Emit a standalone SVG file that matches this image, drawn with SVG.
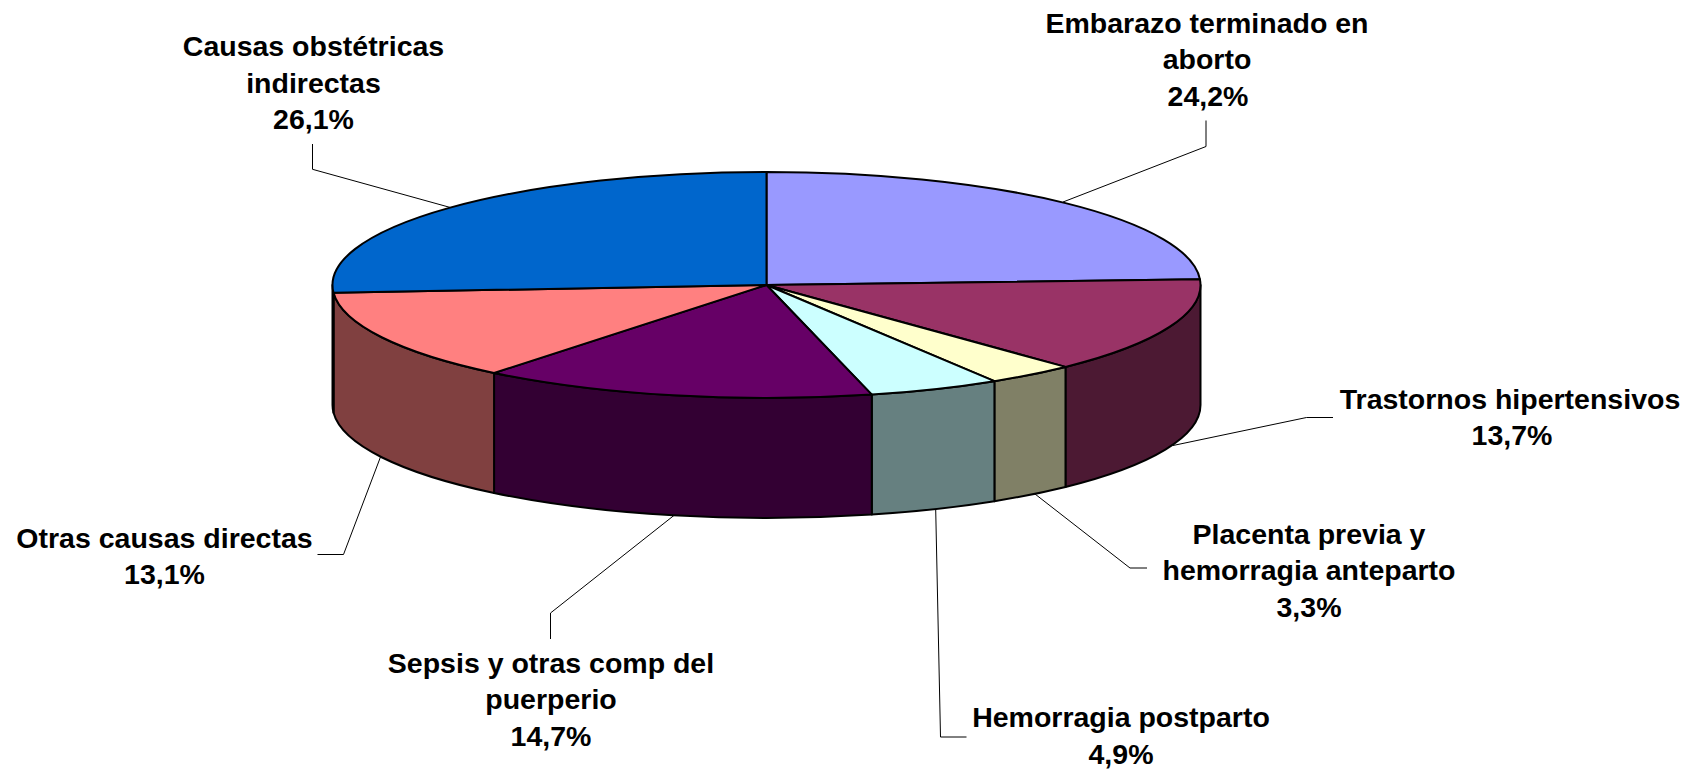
<svg xmlns="http://www.w3.org/2000/svg" width="1705" height="770" viewBox="0 0 1705 770">
<style>
.f{stroke:#000;stroke-width:2;stroke-linejoin:round}
.lbl{font-family:"Liberation Sans",Arial,sans-serif;font-weight:bold;font-size:28.5px;fill:#000;text-anchor:middle}
.ld{fill:none;stroke:#000;stroke-width:1}
</style>
<rect width="1705" height="770" fill="#fff"/>
<g id="embarazo">
<path class="f" fill="#9999FF" d="M766.5,285 L766.5,172 A434,113 0 0,1 1199.95,279.32 Z"/>
<text class="lbl" x="1207" y="32.5">Embarazo terminado en</text>
<text class="lbl" x="1207" y="69">aborto</text>
<text class="lbl" x="1208" y="105.5">24,2%</text>
</g>
<g id="trastornos">
<path class="f" fill="#4C1933" d="M1200.5,285 A434,113 0 0,1 1065.49,366.91 L1065.49,486.91 A434,113 0 0,0 1200.5,405 Z"/>
<path class="f" fill="#993366" d="M766.5,285 L1199.95,279.32 A434,113 0 0,1 1065.49,366.91 Z"/>
<text class="lbl" x="1510" y="408.5">Trastornos hipertensivos</text>
<text class="lbl" x="1512" y="445">13,7%</text>
</g>
<g id="placenta">
<path class="f" fill="#808066" d="M1065.49,366.91 A434,113 0 0,1 994.42,381.16 L994.42,501.16 A434,113 0 0,0 1065.49,486.91 Z"/>
<path class="f" fill="#FFFFCC" d="M766.5,285 L1065.49,366.91 A434,113 0 0,1 994.42,381.16 Z"/>
<text class="lbl" x="1309" y="543.5">Placenta previa y</text>
<text class="lbl" x="1309" y="580">hemorragia anteparto</text>
<text class="lbl" x="1309" y="616.5">3,3%</text>
</g>
<g id="hemorragia">
<path class="f" fill="#668080" d="M994.42,381.16 A434,113 0 0,1 871.79,394.62 L871.79,514.62 A434,113 0 0,0 994.42,501.16 Z"/>
<path class="f" fill="#CCFFFF" d="M766.5,285 L994.42,381.16 A434,113 0 0,1 871.79,394.62 Z"/>
<text class="lbl" x="1121" y="727">Hemorragia postparto</text>
<text class="lbl" x="1121" y="763.5">4,9%</text>
</g>
<g id="sepsis">
<path class="f" fill="#330033" d="M871.79,394.62 A434,113 0 0,1 494.06,372.96 L494.06,492.96 A434,113 0 0,0 871.79,514.62 Z"/>
<path class="f" fill="#660066" d="M766.5,285 L871.79,394.62 A434,113 0 0,1 494.06,372.96 Z"/>
<text class="lbl" x="551" y="672.5">Sepsis y otras comp del</text>
<text class="lbl" x="551" y="709">puerperio</text>
<text class="lbl" x="551" y="745.5">14,7%</text>
</g>
<g id="otras">
<path class="f" fill="#804040" d="M494.06,372.96 A434,113 0 0,1 333.54,292.8 L333.54,412.8 A434,113 0 0,0 494.06,492.96 Z"/>
<path class="f" fill="#FF8080" d="M766.5,285 L494.06,372.96 A434,113 0 0,1 333.54,292.8 Z"/>
<text class="lbl" x="164.5" y="547.5">Otras causas directas</text>
<text class="lbl" x="164.5" y="584">13,1%</text>
</g>
<g id="causas">
<path class="f" fill="#003366" d="M333.54,292.8 A434,113 0 0,1 332.5,285 L332.5,405 A434,113 0 0,0 333.54,412.8 Z"/>
<path class="f" fill="#0066CC" d="M766.5,285 L333.54,292.8 A434,113 0 0,1 766.5,172 Z"/>
<text class="lbl" x="313.5" y="56">Causas obstétricas</text>
<text class="lbl" x="313.5" y="92.5">indirectas</text>
<text class="lbl" x="313.5" y="129">26,1%</text>
</g>
<g id="connectors">
<polyline class="ld" points="1206,120.5 1206,146.5 1063,202"/>
<polyline class="ld" points="1333,417.5 1306.5,417.5 1173,445.5"/>
<polyline class="ld" points="1147,568 1130,568 1035,494"/>
<polyline class="ld" points="966.5,737 940.5,737 935.7,509.3"/>
<polyline class="ld" points="550.5,639 550.5,613 674,515.4"/>
<polyline class="ld" points="317.5,554.5 343.5,554.5 380.6,456.7"/>
<polyline class="ld" points="312.5,144 312.5,169.3 450,207.4"/>
</g>
</svg>
